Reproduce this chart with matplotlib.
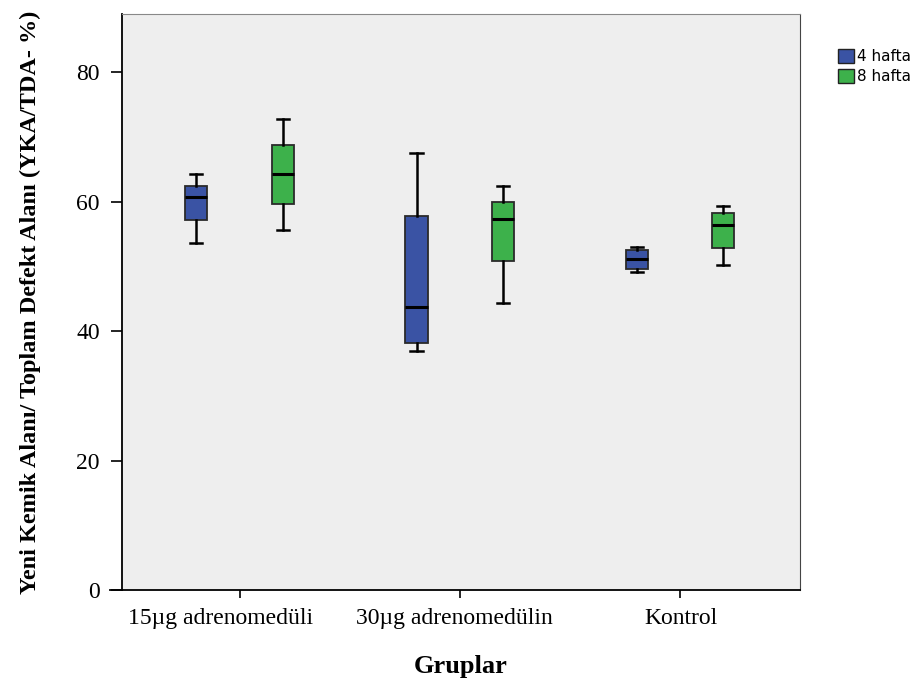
import matplotlib
matplotlib.use("Agg")
import matplotlib.pyplot as plt
import matplotlib.transforms as mtrans
from matplotlib.patches import Patch

gruplar = ["15µg adrenomedüli", "30µg adrenomedülin", "Kontrol"]
seriler = ["4 hafta", "8 hafta"]
renkler = ["#3A53A4", "#3DB14B"]

# whisker low, q1, median, q3, whisker high
hafta4 = [
    [53.6, 57.1, 60.7, 62.4, 64.2],
    [36.9, 38.2, 43.8, 57.8, 67.5],
    [49.2, 49.6, 51.2, 52.5, 53.0],
]
hafta8 = [
    [55.7, 59.7, 64.2, 68.8, 72.8],
    [44.4, 50.9, 57.3, 59.9, 62.4],
    [50.2, 52.8, 56.4, 58.3, 59.3],
]

fig = plt.figure(figsize=(9.21, 6.88), dpi=100)
ax = fig.add_axes([0.1325, 0.1424, 0.736, 0.8373])
ax.set_facecolor("#EEEEEE")

def istat(v):
    return dict(whislo=v[0], q1=v[1], med=v[2], q3=v[3], whishi=v[4], fliers=[])

for k, veri in enumerate([hafta4, hafta8]):
    konum = [i + (-0.197 if k == 0 else 0.197) for i in range(len(gruplar))]
    ax.bxp([istat(v) for v in veri], positions=konum, widths=0.1,
           patch_artist=True, showfliers=False,
           boxprops=dict(facecolor=renkler[k], edgecolor="#2a2a2a", linewidth=1.3),
           medianprops=dict(color="black", linewidth=2.2),
           whiskerprops=dict(color="black", linewidth=1.8),
           capprops=dict(color="black", linewidth=1.8),
           capwidths=0.055)

ax.set_xlim(-0.535, 2.545)
ax.set_ylim(0, 89)
ax.set_xticks(range(len(gruplar)))
ax.set_xticklabels(gruplar, family="Liberation Serif", fontsize=17)
ax.set_yticks([0, 20, 40, 60, 80])
ax.set_yticklabels(["0", "20", "40", "60", "80"], family="Liberation Serif", fontsize=17)
ax.tick_params(axis="y", direction="out", length=8, width=1.2, pad=8)
ax.tick_params(axis="x", direction="out", length=6, width=1.2, pad=7)
ax.spines["left"].set_linewidth(1.3)
ax.spines["bottom"].set_linewidth(1.3)
ax.spines["top"].set_color("#888888")
ax.spines["right"].set_color("#444444")
# alt eksen cizgisi sola biraz uzar
ax.plot([-0.018, 0], [0, 0], transform=ax.transAxes, color="black", lw=1.3, clip_on=False)

# etiketler referansta biraz sola kayik
kaydir = [-19, -5, 1]
for lab, dx in zip(ax.get_xticklabels(), kaydir):
    lab.set_transform(lab.get_transform() + mtrans.ScaledTranslation(dx / 100, 0, fig.dpi_scale_trans))

ax.set_xlabel("Gruplar", family="Liberation Serif", fontsize=19, fontweight="bold", labelpad=19)
ax.set_ylabel("Yeni Kemik Alanı/ Toplam Defekt Alanı (YKA/TDA- %)", family="Liberation Serif",
              fontsize=17.5, fontweight="bold", labelpad=25)

tutamaclar = [Patch(facecolor=renkler[i], edgecolor="#222222", label=seriler[i]) for i in range(2)]
fig.legend(handles=tutamaclar, loc="upper left", bbox_to_anchor=(0.902, 0.94), frameon=False,
           fontsize=11, handlelength=1.0, handleheight=1.0, handletextpad=0.2,
           labelspacing=0.35, borderpad=0)

fig.savefig("out.png", dpi=100)
